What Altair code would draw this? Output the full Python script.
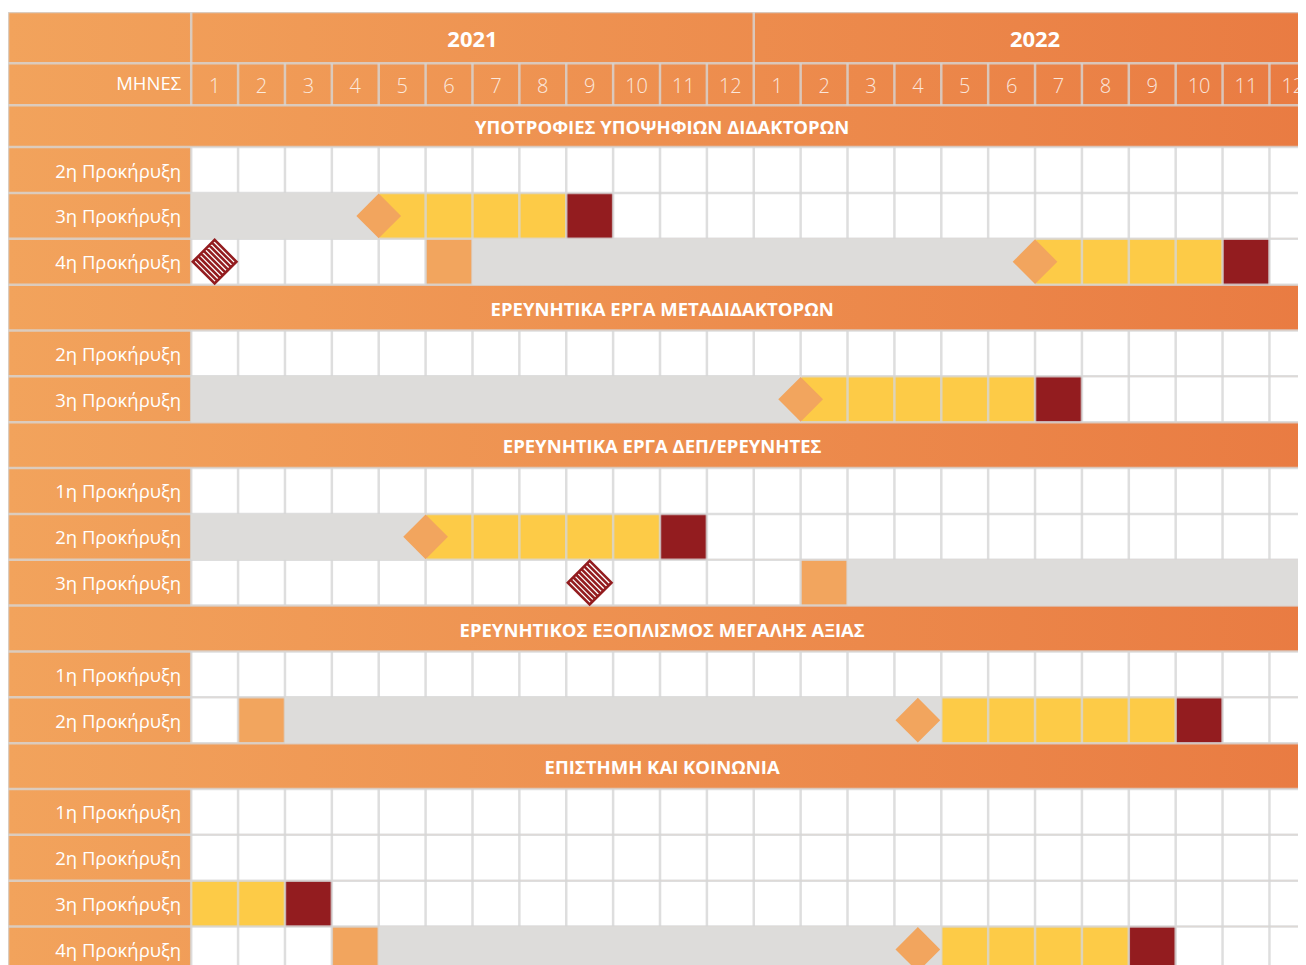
import altair as alt
import pandas as pd

# ---------------- data ----------------
years = ["2021", "2022"]
month_numbers = list(range(1, 13))
months_title = "ΜΗΝΕΣ"

section_titles = [
    "ΥΠΟΤΡΟΦΙΕΣ ΥΠΟΨΗΦΙΩΝ ΔΙΔΑΚΤΟΡΩΝ",
    "ΕΡΕΥΝΗΤΙΚΑ ΕΡΓΑ ΜΕΤΑΔΙΔΑΚΤΟΡΩΝ",
    "ΕΡΕΥΝΗΤΙΚΑ ΕΡΓΑ ΔΕΠ/ΕΡΕΥΝΗΤΕΣ",
    "ΕΡΕΥΝΗΤΙΚΟΣ ΕΞΟΠΛΙΣΜΟΣ ΜΕΓΑΛΗΣ ΑΞΙΑΣ",
    "ΕΠΙΣΤΗΜΗ ΚΑΙ ΚΟΙΝΩΝΙΑ",
]
section_calls = [
    ["2η Προκήρυξη", "3η Προκήρυξη", "4η Προκήρυξη"],
    ["2η Προκήρυξη", "3η Προκήρυξη"],
    ["1η Προκήρυξη", "2η Προκήρυξη", "3η Προκήρυξη"],
    ["1η Προκήρυξη", "2η Προκήρυξη"],
    ["1η Προκήρυξη", "2η Προκήρυξη", "3η Προκήρυξη", "4η Προκήρυξη"],
]

# month index: 1 = Jan 2021 ... 13 = Jan 2022 ... 24 = Dec 2022
launch_rows = [(0, "4η Προκήρυξη"), (2, "3η Προκήρυξη")]
launch_month = [1, 9]

announce_rows = [(0, "4η Προκήρυξη"), (2, "3η Προκήρυξη"), (3, "2η Προκήρυξη"), (4, "4η Προκήρυξη")]
announce_month = [6, 14, 2, 4]

evaluation_rows = [(0, "3η Προκήρυξη"), (0, "4η Προκήρυξη"), (1, "3η Προκήρυξη"), (2, "2η Προκήρυξη"),
                   (2, "3η Προκήρυξη"), (3, "2η Προκήρυξη"), (4, "4η Προκήρυξη")]
evaluation_from = [1, 7, 1, 1, 15, 3, 5]
evaluation_to = [4, 18, 13, 5, 24, 16, 16]

milestone_rows = [(0, "3η Προκήρυξη"), (0, "4η Προκήρυξη"), (1, "3η Προκήρυξη"), (2, "2η Προκήρυξη"),
                  (3, "2η Προκήρυξη"), (4, "4η Προκήρυξη")]
milestone_at = [4.0, 18.0, 13.0, 5.0, 15.5, 15.5]  # elapsed months

implementation_rows = [(0, "3η Προκήρυξη"), (0, "4η Προκήρυξη"), (1, "3η Προκήρυξη"), (2, "2η Προκήρυξη"),
                       (3, "2η Προκήρυξη"), (4, "3η Προκήρυξη"), (4, "4η Προκήρυξη")]
implementation_from = [5, 19, 14, 6, 17, 1, 17]
implementation_to = [8, 22, 18, 10, 21, 2, 20]
completion_month = [9, 23, 19, 11, 22, 3, 21]

# ---------------- layout / style ----------------
PX_M = 46.88
LABEL_PX = 183.2
W = 1290
YEAR_H, MONTH_H, FIRST_SEC_H, ROW_H = 51.3, 42.0, 41.8, 45.85
N_MONTHS = 12 * len(years)
LW = LABEL_PX / PX_M
XDOM = [-LW, (W - LABEL_PX) / PX_M]

ORANGE_L, ORANGE_R = "#F2A35C", "#E97B42"
GRID = "#D6D6D6"
GRAY = "#DDDCDA"
YELLOW = "#FDCB47"
RED = "#931C1F"
SQ = "#F2A55E"
FONT = "Open Sans"

# rows
rows = []
y = 0.0
rows.append(dict(kind="year", top=y, bottom=y + YEAR_H)); y += YEAR_H
rows.append(dict(kind="month", top=y, bottom=y + MONTH_H)); y += MONTH_H
for si, title in enumerate(section_titles):
    h = FIRST_SEC_H if si == 0 else ROW_H
    rows.append(dict(kind="section", top=y, bottom=y + h, text=title)); y += h
    for call in section_calls[si]:
        rows.append(dict(kind="call", top=y, bottom=y + ROW_H, text=call, key=(si, call))); y += ROW_H
H = y
HEIGHT = int(round(H))
for r in rows:
    r["mid"] = (r["top"] + r["bottom"]) / 2
row_of = {r["key"]: r for r in rows if r["kind"] == "call"}

X = lambda f="x": alt.X(f"{f}:Q", scale=alt.Scale(domain=XDOM, nice=False, zero=False), axis=None)
Y = lambda f="y": alt.Y(f"{f}:Q", scale=alt.Scale(domain=[0, HEIGHT], reverse=True, nice=False, zero=False), axis=None)

# background gradient
bg_df = pd.DataFrame([dict(x=-LW, x2=N_MONTHS, y=0, y2=H)])
gradient = alt.LinearGradient(gradient="linear", x1=0, x2=1, y1=0, y2=0,
                              stops=[alt.GradientStop(offset=0, color=ORANGE_L),
                                     alt.GradientStop(offset=1, color=ORANGE_R)])
bg = alt.Chart(bg_df).mark_rect(fill=gradient, clip=True).encode(x=X(), x2="x2:Q", y=Y(), y2="y2:Q")

# white cells
white_df = pd.DataFrame([dict(x=0, x2=N_MONTHS, y=r["top"], y2=r["bottom"]) for r in rows if r["kind"] == "call"])
white = alt.Chart(white_df).mark_rect(fill="white", clip=True).encode(x=X(), x2="x2:Q", y=Y(), y2="y2:Q")

# coloured cells (under the grid)
cells = []
for (k, a, b) in zip(implementation_rows, implementation_from, implementation_to):
    r = row_of[k]
    cells.append(dict(x=a - 1, x2=b, y=r["top"], y2=r["bottom"], c="impl"))
for (k, m) in zip(implementation_rows, completion_month):
    r = row_of[k]
    cells.append(dict(x=m - 1, x2=m, y=r["top"], y2=r["bottom"], c="done"))
for (k, m) in zip(announce_rows, announce_month):
    r = row_of[k]
    cells.append(dict(x=m - 1, x2=m, y=r["top"], y2=r["bottom"], c="ann"))
cells_df = pd.DataFrame(cells)
colored = alt.Chart(cells_df).mark_rect(clip=True).encode(
    x=X(), x2="x2:Q", y=Y(), y2="y2:Q",
    color=alt.Color("c:N", scale=alt.Scale(domain=["impl", "done", "ann"], range=[YELLOW, RED, SQ]), legend=None),
)

# grid lines
vlines, hlines = [], []
for r in rows:
    if r["kind"] == "year":
        xs = [-LW] + [12 * i for i in range(len(years) + 1)]
    elif r["kind"] == "section":
        xs = [-LW]
    else:
        xs = [-LW] + list(range(N_MONTHS + 1))
    for xv in xs:
        vlines.append(dict(x=xv, y=r["top"], y2=r["bottom"]))
    hlines.append(dict(x=-LW, x2=N_MONTHS, y=r["top"]))
hlines.append(dict(x=-LW, x2=N_MONTHS, y=H))
vgrid = alt.Chart(pd.DataFrame(vlines)).mark_rule(color=GRID, strokeWidth=2.5, opacity=0.8, clip=True).encode(
    x=X(), y=Y(), y2="y2:Q")
hgrid = alt.Chart(pd.DataFrame(hlines)).mark_rule(color=GRID, strokeWidth=2.5, opacity=0.8, clip=True).encode(
    x=X(), x2="x2:Q", y=Y())

# gray evaluation bars (over the grid)
gray_df = pd.DataFrame([dict(x=a - 1, x2=b, y=row_of[k]["top"], y2=row_of[k]["bottom"])
                        for k, a, b in zip(evaluation_rows, evaluation_from, evaluation_to)])
gray = alt.Chart(gray_df).mark_rect(fill=GRAY, clip=True).encode(x=X(), x2="x2:Q", y=Y(), y2="y2:Q")

# milestone diamonds
dia_df = pd.DataFrame([dict(x=t, y=row_of[k]["mid"]) for k, t in zip(milestone_rows, milestone_at)])
dia = alt.Chart(dia_df).mark_point(shape="diamond", size=2000, filled=True, color=SQ, opacity=1).encode(
    x=X(), y=Y())

# hatched launch diamonds
path = "M-1,0L0,-1L1,0L0,1Z"
for i in range(1, 8):
    c = -1 + i * 0.25
    path += f"M{(c - 1) / 2:.4f},{(-1 - c) / 2:.4f}L{(c + 1) / 2:.4f},{(1 - c) / 2:.4f}"
hat_df = pd.DataFrame([dict(x=m - 0.5, y=row_of[k]["mid"]) for k, m in zip(launch_rows, launch_month)])
hat = alt.Chart(hat_df).mark_point(shape=path, size=1900, filled=False, stroke=RED, strokeWidth=2.6,
                                   opacity=1).encode(x=X(), y=Y())

# texts
year_row, month_row = rows[0], rows[1]
year_df = pd.DataFrame([dict(x=12 * i + 6, y=year_row["mid"], t=yr) for i, yr in enumerate(years)])
year_txt = alt.Chart(year_df).mark_text(font=FONT, fontSize=22, fontWeight="bold", color="white",
                                        baseline="middle", dy=2).encode(x=X(), y=Y(), text="t:N")

mon_df = pd.DataFrame([dict(x=12 * i + m - 0.5, y=month_row["mid"], t=str(m))
                       for i in range(len(years)) for m in month_numbers])
mon_txt = alt.Chart(mon_df).mark_text(font=FONT, fontSize=20, fontWeight=300, color="white", opacity=0.8,
                                      baseline="middle", dy=3).encode(x=X(), y=Y(), text="t:N")

mt_df = pd.DataFrame([dict(x=0, y=month_row["mid"], t=months_title)])
mt_txt = alt.Chart(mt_df).mark_text(font=FONT, fontSize=18.5, color="white", align="right", dx=-10,
                                    baseline="middle").encode(x=X(), y=Y(), text="t:N")

lab_df = pd.DataFrame([dict(x=0, y=r["mid"], t=r["text"]) for r in rows if r["kind"] == "call"])
lab_txt = alt.Chart(lab_df).mark_text(font=FONT, fontSize=18.5, color="white", align="right", dx=-10,
                                      baseline="middle", dy=1.5).encode(x=X(), y=Y(), text="t:N")

sec_df = pd.DataFrame([dict(x=(-LW + N_MONTHS) / 2, y=r["mid"], t=r["text"]) for r in rows if r["kind"] == "section"])
sec_txt = alt.Chart(sec_df).mark_text(font=FONT, fontSize=18.5, fontWeight="bold", color="white",
                                      baseline="middle", dy=2).encode(x=X(), y=Y(), text="t:N")

chart = alt.layer(bg, white, colored, vgrid, hgrid, gray, dia, hat,
                  year_txt, mon_txt, mt_txt, lab_txt, sec_txt).properties(
    width=W, height=HEIGHT,
    padding={"left": 0, "top": 4, "right": 0, "bottom": 0},
    autosize=alt.AutoSizeParams(type="none"),
).configure_view(strokeWidth=0)

chart.save("out.html", embed_options={"renderer": "svg", "actions": False})
